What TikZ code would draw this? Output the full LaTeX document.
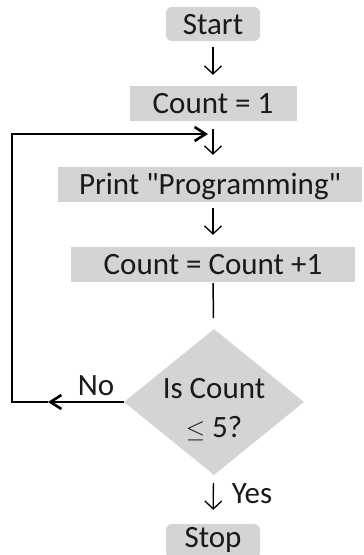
\documentclass[tikz,border=0pt]{standalone}
\usepackage{fontspec}
\setmainfont{Carlito}
\usetikzlibrary{arrows.meta,shapes.geometric}

\begin{document}
\begin{tikzpicture}[
                x=1pt,
                y=-1pt,
                every node/.style={
                  inner sep=0pt,
                  text=black!90,
                  text height=20pt,
                  text depth=0pt,
                  font=\fontsize{31}{39}\selectfont,
                },
                box/.style={
                  fill=black!17,
                  minimum height=35pt,
                },
                terminal/.style={
                  box,
                  rounded corners=6pt,
                  minimum width=94pt,
                  minimum height=34pt,
                },
                decision/.style={
                  diamond,
                  fill=black!17,
                  minimum width=180pt,
                  minimum height=146pt,
                },
                flow/.style={
                  line width=1.3pt,
                  -{Straight Barb[length=8pt,width=17pt]},
                },
                back/.style={
                  line width=2.6pt,
                  -{Straight Barb[length=11pt,width=14pt]},
                },
              ]
              \useasboundingbox (0,0) rectangle (364,555) ;
              \node[terminal] at (213,24) (start) {Start} ;
              \node[box,minimum width=167pt] at (213,103.5) (init) {Count = 1} ;
              \node[box,minimum width=304pt] at (210,184.5) (print) {Print \textquotedbl Programming\textquotedbl} ;
              \node[box,minimum width=284pt] at (213,264.5) (incr) {Count = Count +1} ;
              \node[decision] at (214,402) (test) {} ;
              \node[align=center,text height=,text depth=] at (214,410) (testtext) {Is Count\\$\le$ 5?} ;
              \node[terminal,text depth=8pt] at (213,541) (stop) {Stop} ;
              \node at (96,385) (nolbl) {No} ;
              \node at (252,493) (yeslbl) {Yes} ;
              \coordinate (noend) at (48,402) ;
              \coordinate (lowleft) at (12,402) ;
              \coordinate (join) at (208,134) ;
              \draw[flow,shorten <=6pt,shorten >=11pt] (start) -- (init) ;
              \draw[flow,shorten <=8pt,shorten >=12pt] (init) -- (init |- print.north) ;
              \draw[flow,shorten <=6pt,shorten >=12pt] (init |- print.south) -- (incr) ;
              \draw[line width=1.5pt,shorten <=1pt,shorten >=11pt] (incr) -- (test) ;
              \draw[flow,shorten <=8pt,shorten >=14pt] (test) -- (stop) ;
              \draw[back] (test.west) -- (noend) ;
              \draw[back] (noend) -- (lowleft) |- (join) ;
\end{tikzpicture}
\end{document}
